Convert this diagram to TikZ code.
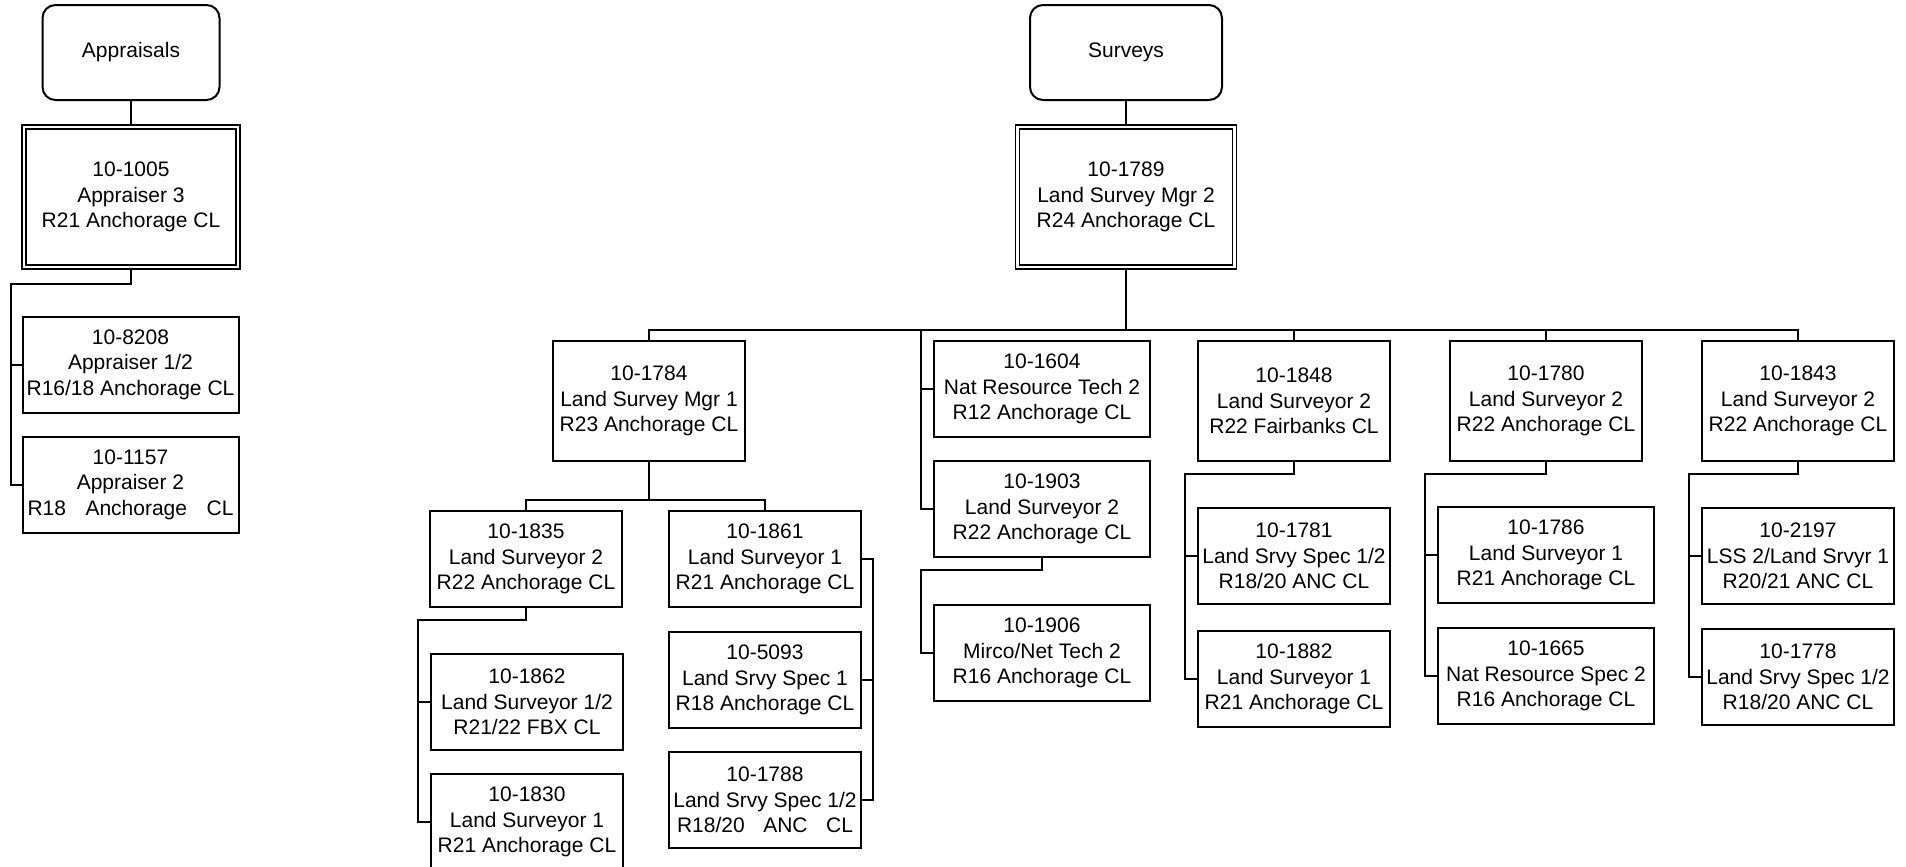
\documentclass[tikz,border=0pt]{standalone}
\usepackage{fontspec}
\setmainfont{Liberation Sans}
\usetikzlibrary{positioning}
\tikzstyle{line} = [draw, line width=1pt]
\tikzstyle{unit} = [rectangle, rounded corners=6.5pt, draw=black, line width=1pt, minimum height=47.5pt, inner sep=0pt, text centered]
\tikzstyle{head} = [rectangle, draw=black, line width=0.6pt, double, double distance=1.4pt, minimum height=70pt, inner sep=0pt, align=center]
\tikzstyle{post} = [rectangle, draw=black, line width=1pt, minimum width=96pt, minimum height=48pt, inner sep=0pt, align=center]
\tikzstyle{wide} = [post, minimum width=108pt]
\tikzstyle{tall} = [post, minimum height=60pt]

\begin{document}
\begin{tikzpicture}[x=0.5pt, y=-0.5pt, node distance=60pt, font=\fontsize{10.5pt}{12.8pt}\selectfont]
				\useasboundingbox (0,0) rectangle (1906,867);
				% Appraisals
				\node [unit, minimum width=88.5pt] (app) at (131,52.5) {Appraisals};
				\node [head, minimum width=107pt] (a1005) at (131,197) {10-1005 \\ Appraiser 3 \\ R21 Anchorage CL};
				\node [wide] (a8208) at (130.5,364.5) {10-8208 \\ Appraiser 1/2 \\ R16/18 Anchorage CL};
				\node [wide, below of=a8208] (a1157) {10-1157 \\ Appraiser 2 \\ \makebox[103pt][s]{R18 Anchorage CL}};
				% Surveys
				\node [unit, minimum width=96pt] (srv) at (1126,52.5) {Surveys};
				\node [head, minimum width=108.5pt] (s1789) at (1126,197) {10-1789 \\ Land Survey Mgr 2 \\ R24 Anchorage CL};
				\node [post, tall] (s1784) at (649,401) {10-1784 \\ Land Survey Mgr 1 \\ R23 Anchorage CL};
				\node [post] (s1835) at (526,559) {10-1835 \\ Land Surveyor 2 \\ R22 Anchorage CL};
				\node [post] (s1862) at (527,702) {10-1862 \\ Land Surveyor 1/2 \\ R21/22 FBX CL};
				\node [post, below of=s1862] (s1830) {10-1830 \\ Land Surveyor 1 \\ R21 Anchorage CL};
				\node [post] (s1861) at (765,559) {10-1861 \\ Land Surveyor 1 \\ R21 Anchorage CL};
				\node [post] (s5093) at (765,680) {10-5093 \\ Land Srvy Spec 1 \\ R18 Anchorage CL};
				\node [post, below of=s5093] (s1788) {10-1788 \\ Land Srvy Spec 1/2 \\ \makebox[88pt][s]{R18/20 ANC CL}};
				\node [wide] (s1604) at (1042,389) {10-1604 \\ Nat Resource Tech 2 \\ R12 Anchorage CL};
				\node [wide, below of=s1604] (s1903) {10-1903 \\ Land Surveyor 2 \\ R22 Anchorage CL};
				\node [wide] (s1906) at (1042,653) {10-1906 \\ Mirco/Net Tech 2 \\ R16 Anchorage CL};
				\node [post, tall] (s1848) at (1294,401) {10-1848 \\ Land Surveyor 2 \\ R22 Fairbanks CL};
				\node [post] (s1781) at (1294,556) {10-1781 \\ Land Srvy Spec 1/2 \\ R18/20 ANC CL};
				\node [post] (s1882) at (1294,679) {10-1882 \\ Land Surveyor 1 \\ R21 Anchorage CL};
				\node [wide, tall] (s1780) at (1546,401) {10-1780 \\ Land Surveyor 2 \\ R22 Anchorage CL};
				\node [wide] (s1786) at (1546,555) {10-1786 \\ Land Surveyor 1 \\ R21 Anchorage CL};
				\node [wide] (s1665) at (1546,676) {10-1665 \\ Nat Resource Spec 2 \\ R16 Anchorage CL};
				\node [post, tall] (s1843) at (1798,401) {10-1843 \\ Land Surveyor 2 \\ R22 Anchorage CL};
				\node [post] (s2197) at (1798,556) {10-2197 \\ LSS 2/Land Srvyr 1 \\ R20/21 ANC CL};
				\node [post] (s1778) at (1798,677) {10-1778 \\ Land Srvy Spec 1/2 \\ R18/20 ANC CL};
				% Draw edges
				\path [line] (app.south) -- ([yshift=1.3pt]a1005.north);
				\path [line] ([yshift=-1.3pt]a1005.south) -- ++(0,14) -| ([xshift=-5.5pt]a1157.west) -- (a1157.west);
				\path [line] (a8208.west) -- ++(-11,0);
				\path [line] (srv.south) -- ([yshift=1.3pt]s1789.north);
				\path [line] ([yshift=-1.3pt]s1789.south) -- ++(0,60) coordinate (bus);
				\path [line] (s1784.north) |- (bus) -| (s1843.north);
				\path [line] (s1848.north) -- (s1848.north |- bus);
				\path [line] (s1780.north) -- (s1780.north |- bus);
				\path [line] (s1903.west) -| ([xshift=-6pt]s1604.west |- bus);
				\path [line] (s1604.west) -- ++(-12,0);
				\path [line] (s1784.south) -- ++(0,38) coordinate (m1784) -| (s1835.north);
				\path [line] (m1784) -| (s1861.north);
				\path [line] (s1835.south) -- ++(0,12) -| ([xshift=-6pt]s1830.west) -- (s1830.west);
				\path [line] (s1862.west) -- ++(-12,0);
				\path [line] (s1861.east) -- ++(11,0) |- (s1788.east);
				\path [line] (s5093.east) -- ++(11,0);
				\path [line] (s1903.south) -- ++(0,12) -| ([xshift=-6pt]s1906.west) -- (s1906.west);
				\path [line] (s1848.south) -- ++(0,12) -| ([xshift=-6pt]s1882.west) -- (s1882.west);
				\path [line] (s1781.west) -- ++(-12,0);
				\path [line] (s1780.south) -- ++(0,12) -| ([xshift=-6pt]s1665.west) -- (s1665.west);
				\path [line] (s1786.west) -- ++(-12,0);
				\path [line] (s1843.south) -- ++(0,12) -| ([xshift=-6pt]s1778.west) -- (s1778.west);
				\path [line] (s2197.west) -- ++(-12,0);
				\end{tikzpicture}
\end{document}
